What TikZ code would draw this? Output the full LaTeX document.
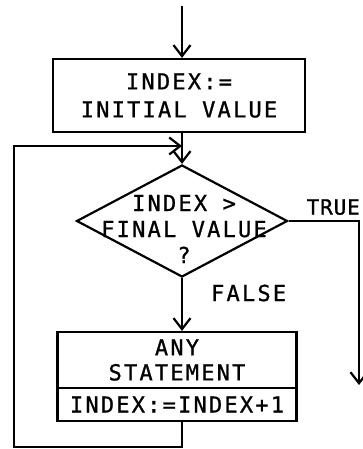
\documentclass[tikz,border=0pt]{standalone}
\usepackage{fontspec}
\setmonofont[LetterSpace=10,FakeBold=1]{DejaVu Sans Mono}
\newfontfamily\narrowmono[LetterSpace=4,FakeBold=1]{DejaVu Sans Mono}
\usetikzlibrary{shapes.geometric,arrows.meta}

\begin{document}
\begin{tikzpicture}[x=1pt,y=-1pt,line width=2.2pt,
  txt/.style={font=\ttfamily\fontsize{22}{28}\selectfont,align=center,inner sep=0pt},
  box/.style={draw,txt,minimum width=252pt,minimum height=73pt},
  test/.style={draw,diamond,inner sep=0pt,minimum width=211pt,minimum height=112pt},
  arr/.style={-{Straight Barb[length=11pt,width=17pt,line width=2.2pt]}}]
\useasboundingbox (0,0) rectangle (363,449);
% boxes and test
\node[box] (init) at (179,95.5) {INDEX:=\\INITIAL VALUE};
\node[test] (test) at (182,221) {};
\node[txt,font=\ttfamily\fontsize{22}{26}\selectfont] (testtxt) at (184,229) {INDEX >\\FINAL VALUE\\?};
\node[box,minimum width=239pt,minimum height=56pt,font=\ttfamily\fontsize{22}{25}\selectfont] (body) at (177,360) {ANY\\STATEMENT};
\node[box,minimum width=239pt,minimum height=33pt] (incr) at (177,404.5) {INDEX:=INDEX+1};
% labels
\node[txt,font=\narrowmono\fontsize{21}{26}\selectfont,anchor=south west] (truetxt) at ([xshift=17pt,yshift=5pt]test.east) {TRUE};
\node[txt,anchor=west] (falsetxt) at (210,293) {FALSE};
% free ends
\coordinate (start) at (182,6);
\coordinate (trueend) at (359,385);
\coordinate (loopbl) at (14,447);
\coordinate (looptop) at (14,146);
% connectors
\draw[arr] (start) -- (start |- init.north);
\draw[arr] (init.south -| test.north) -- (test.north);
\draw[arr] (test.east) -| (trueend);
\draw[arr] (test.south) -- (body.north -| test.south);
\draw[arr] (incr.south -| test.south) |- (loopbl) -- (looptop) -- (looptop -| test.north);
\end{tikzpicture}
\end{document}
